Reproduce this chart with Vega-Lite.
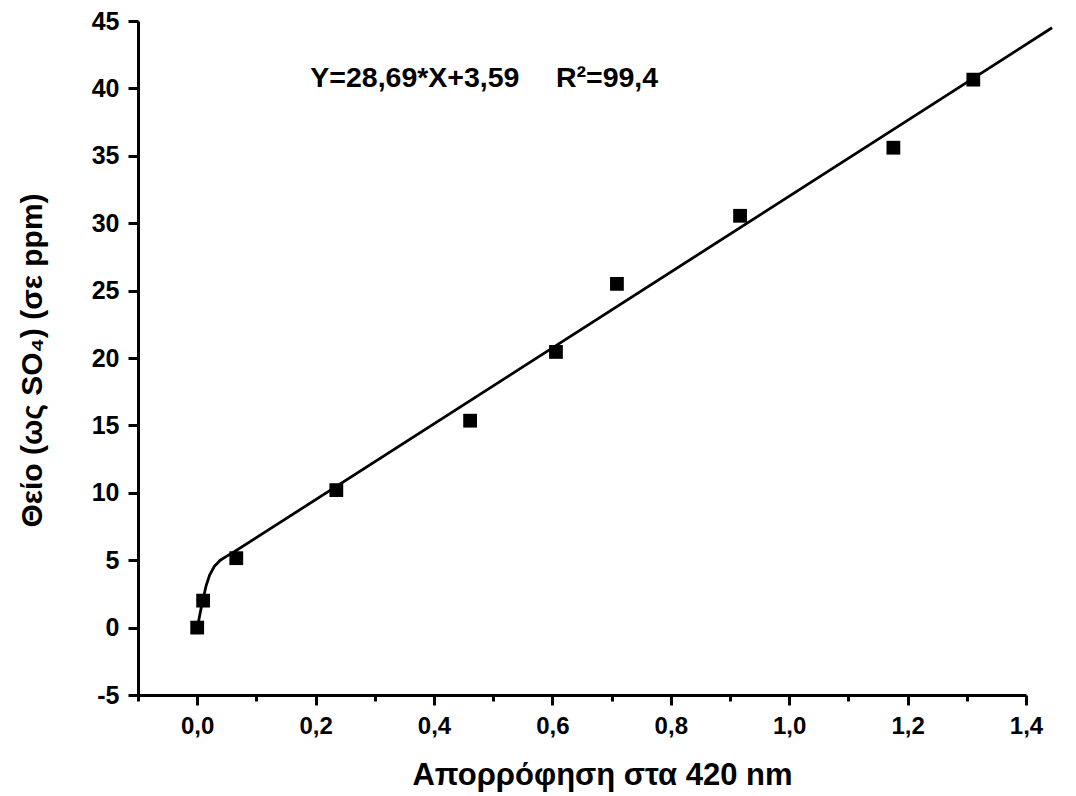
{
  "$schema": "https://vega.github.io/schema/vega-lite/v6.json",
  "width": 888,
  "height": 674,
  "autosize": {"type": "none"},
  "padding": {"left": 138, "top": 21, "right": 50, "bottom": 101},
  "background": "white",
  "config": {"view": {"stroke": null}, "font": "Liberation Sans"},
  "datasets": {
    "points": [
      {"x": 0.0, "y": 0.0},
      {"x": 0.01, "y": 2.0},
      {"x": 0.066, "y": 5.15},
      {"x": 0.235, "y": 10.2},
      {"x": 0.461, "y": 15.35},
      {"x": 0.606, "y": 20.45},
      {"x": 0.709, "y": 25.5},
      {"x": 0.917, "y": 30.55},
      {"x": 1.176, "y": 35.6},
      {"x": 1.311, "y": 40.65}
    ],
    "curve": [
      {"x": 0.002, "y": 0.4},
      {"x": 0.006, "y": 1.3},
      {"x": 0.01, "y": 2.1},
      {"x": 0.015, "y": 3.1},
      {"x": 0.021, "y": 3.9},
      {"x": 0.029, "y": 4.55},
      {"x": 0.039, "y": 5.0},
      {"x": 0.05, "y": 5.3},
      {"x": 0.06, "y": 5.55},
      {"x": 1.444, "y": 44.5}
    ],
    "annot": [
      {"x": 0.191, "y": 40.8, "t1": "Y=28,69*X+3,59"},
      {"x": 0.606, "y": 40.8, "t2": "R²=99,4"}
    ]
  },
  "layer": [
    {
      "data": {"name": "curve"},
      "mark": {"type": "line", "color": "black", "strokeWidth": 2.8, "interpolate": "linear"},
      "encoding": {
        "x": {
          "field": "x", "type": "quantitative",
          "scale": {"domain": [-0.1, 1.4], "nice": false, "zero": false},
          "axis": {
            "values": [-0.1, 0, 0.1, 0.2, 0.3, 0.4, 0.5, 0.6, 0.7, 0.8, 0.9, 1.0, 1.1, 1.2, 1.3, 1.4],
            "labelExpr": "round(datum.value*10) % 2 == 0 ? replace(format(datum.value, '.1f'), '.', ',') : ''",
            "labelOverlap": false,
            "labelFlush": false,
            "labelFontSize": 24,
            "labelFontWeight": "bold",
            "labelColor": "black",
            "labelPadding": 9,
            "grid": false,
            "domainColor": "black",
            "domainWidth": 3,
            "tickColor": "black",
            "tickWidth": 3,
            "tickSize": {"condition": {"test": "round(datum.value*10) % 2 == 0", "value": 10}, "value": 6},
            "title": "Απορρόφηση στα 420 nm",
            "titleFontSize": 31,
            "titleFontWeight": "bold",
            "titleColor": "black",
            "titleX": 464,
            "titleY": 80,
            "titleAlign": "center",
            "titleBaseline": "middle"
          }
        },
        "y": {
          "field": "y", "type": "quantitative",
          "scale": {"domain": [-5, 45], "nice": false, "zero": false},
          "axis": {
            "values": [-5, -2.5, 0, 2.5, 5, 7.5, 10, 12.5, 15, 17.5, 20, 22.5, 25, 27.5, 30, 32.5, 35, 37.5, 40, 42.5, 45],
            "labelExpr": "datum.value % 5 == 0 ? '' + datum.value : ''",
            "labelOverlap": false,
            "labelFlush": false,
            "labelFontSize": 25,
            "labelFontWeight": "bold",
            "labelColor": "black",
            "labelPadding": 9,
            "grid": false,
            "domainColor": "black",
            "domainWidth": 3,
            "tickColor": "black",
            "tickWidth": 3,
            "tickSize": {"condition": {"test": "datum.value % 5 == 0", "value": 10}, "value": 6},
            "title": "Θείο (ως SO₄) (σε ppm)",
            "titleFontSize": 30,
            "titleFontWeight": "bold",
            "titleColor": "black",
            "titleX": -106,
            "titleY": 339,
            "titleAngle": -90,
            "titleAlign": "center",
            "titleBaseline": "middle"
          }
        }
      }
    },
    {
      "data": {"name": "points"},
      "mark": {"type": "square", "color": "black", "filled": true, "opacity": 1, "size": 190},
      "encoding": {
        "x": {"field": "x", "type": "quantitative"},
        "y": {"field": "y", "type": "quantitative"}
      }
    },
    {
      "data": {"name": "annot"},
      "transform": [{"filter": "datum.t1"}],
      "mark": {"type": "text", "align": "left", "baseline": "middle", "fontSize": 28.5, "fontWeight": "bold", "color": "black"},
      "encoding": {
        "x": {"field": "x", "type": "quantitative"},
        "y": {"field": "y", "type": "quantitative"},
        "text": {"field": "t1"}
      }
    },
    {
      "data": {"name": "annot"},
      "transform": [{"filter": "datum.t2"}],
      "mark": {"type": "text", "align": "left", "baseline": "middle", "fontSize": 28.5, "fontWeight": "bold", "color": "black"},
      "encoding": {
        "x": {"field": "x", "type": "quantitative"},
        "y": {"field": "y", "type": "quantitative"},
        "text": {"field": "t2"}
      }
    }
  ]
}
